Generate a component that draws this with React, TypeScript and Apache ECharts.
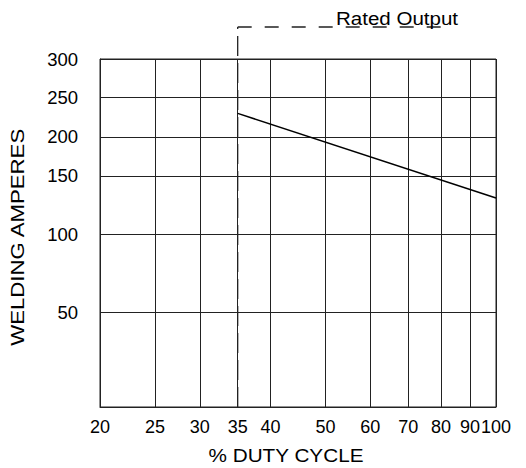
import React, { useEffect, useRef } from "react";
import * as echarts from "echarts";

// Tick labels
const xTicks = [20, 25, 30, 35, 40, 50, 60, 70, 80, 90, 100];
const yTicks = [50, 100, 150, 200, 250, 300];
// The chart's (hand-drawn) amperes scale: amps -> fraction of axis height
const yScaleAmps = [0, 50, 100, 150, 200, 250, 300];
const yScaleFraction = [0, 0.2715, 0.4967, 0.6644, 0.7765, 0.8887, 1];
// Series
const dutyCycle = [35, 100];
const amperes = [230, 131];
const ratedDuty = 35;

function mapY(a: number): number {
  for (let i = 1; i < yScaleAmps.length; i++) {
    if (a <= yScaleAmps[i]) {
      const a0 = yScaleAmps[i - 1], a1 = yScaleAmps[i];
      const f0 = yScaleFraction[i - 1], f1 = yScaleFraction[i];
      return f0 + ((a - a0) / (a1 - a0)) * (f1 - f0);
    }
  }
  return 1;
}
function unmapY(f: number): string {
  for (const t of yTicks) if (Math.abs(mapY(t) - f) < 1e-6) return String(t);
  return "";
}

const FONT = "'Liberation Sans', Arial, Helvetica, sans-serif";

export default function App() {
  const ref = useRef<HTMLDivElement>(null);
  useEffect(() => {
    const chart = echarts.init(ref.current!, null, { renderer: "svg" });
    const gridLine = { show: true, lineStyle: { color: "#222", width: 1, type: "solid" } };
    chart.setOption({
      animation: false,
      grid: {
        left: 100, top: 59, width: 396, height: 348, containLabel: false, outerBoundsMode: "none",
        show: true, borderColor: "#222", borderWidth: 1, backgroundColor: "transparent",
      },
      xAxis: {
        type: "value",
        min: Math.log10(20),
        max: 2,
        axisLine: { show: true, lineStyle: { color: "#222", width: 1 } },
        axisTick: { show: false, customValues: xTicks.map((v) => Math.log10(v)) },
        axisLabel: {
          customValues: xTicks.map((v) => Math.log10(v)),
          formatter: (v: number) => String(Math.round(Math.pow(10, v))),
          fontSize: 18,
          fontFamily: FONT,
          color: "#000",
          margin: 11,
          interval: 0,
          hideOverlap: false,
          showMinLabel: true,
          showMaxLabel: true,
        },
        splitLine: gridLine,
      },
      yAxis: {
        type: "value",
        min: 0,
        max: 1,
        axisLine: { show: true, lineStyle: { color: "#222", width: 1 } },
        axisTick: { show: false, customValues: yTicks.map(mapY) },
        axisLabel: {
          customValues: yTicks.map(mapY),
          formatter: (v: number) => unmapY(v),
          fontSize: 18.5,
          fontFamily: FONT,
          color: "#000",
          margin: 22,
          padding: [6, 0, 0, 0],
          hideOverlap: false,
          showMinLabel: true,
          showMaxLabel: true,
        },
        splitLine: gridLine,
      },
      series: [
        {
          type: "line",
          data: dutyCycle.map((d, i) => [Math.log10(d), mapY(amperes[i])]),
          symbol: "none",
          lineStyle: { color: "#000", width: 1.5 },
        },
      ],
    });

    const xr = chart.convertToPixel({ xAxisIndex: 0 }, Math.log10(ratedDuty)) as number;
    const yb = chart.convertToPixel({ yAxisIndex: 0 }, 0) as number;
    const yTopPx = chart.convertToPixel({ yAxisIndex: 0 }, 1) as number;
    const cornerY = yTopPx - 32;
    chart.setOption({
      graphic: [
        {
          type: "line",
          shape: { x1: xr, y1: yb, x2: xr, y2: cornerY },
          style: { stroke: "#222", lineWidth: 1.3, lineDash: [20, 7] },
        },
        {
          type: "line",
          shape: { x1: xr, y1: cornerY, x2: 447, y2: cornerY },
          style: { stroke: "#222", lineWidth: 1.3, lineDash: [14, 13] },
        },
        {
          type: "text",
          x: 336,
          y: 18.7,
          scaleX: 1.11,
          style: {
            text: "Rated Output",
            fontSize: 18.5,
            fontFamily: FONT,
            fill: "#000",
            textAlign: "left",
            textVerticalAlign: "middle",
          },
        },
        {
          type: "text",
          x: 286,
          y: 455,
          scaleX: 1.12,
          style: {
            text: "% DUTY CYCLE",
            fontSize: 18.5,
            fontFamily: FONT,
            fill: "#000",
            textAlign: "center",
            textVerticalAlign: "middle",
          },
        },
        {
          type: "text",
          x: 17.3,
          y: 237.3,
          rotation: Math.PI / 2,
          scaleX: 1.2,
          style: {
            text: "WELDING AMPERES",
            fontSize: 18.5,
            fontFamily: FONT,
            fill: "#000",
            textAlign: "center",
            textVerticalAlign: "middle",
          },
        },
      ],
    });
    return () => chart.dispose();
  }, []);
  return <div ref={ref} style={{ width: 526, height: 468, position: "absolute", left: 0, top: 0 }} />;
}
